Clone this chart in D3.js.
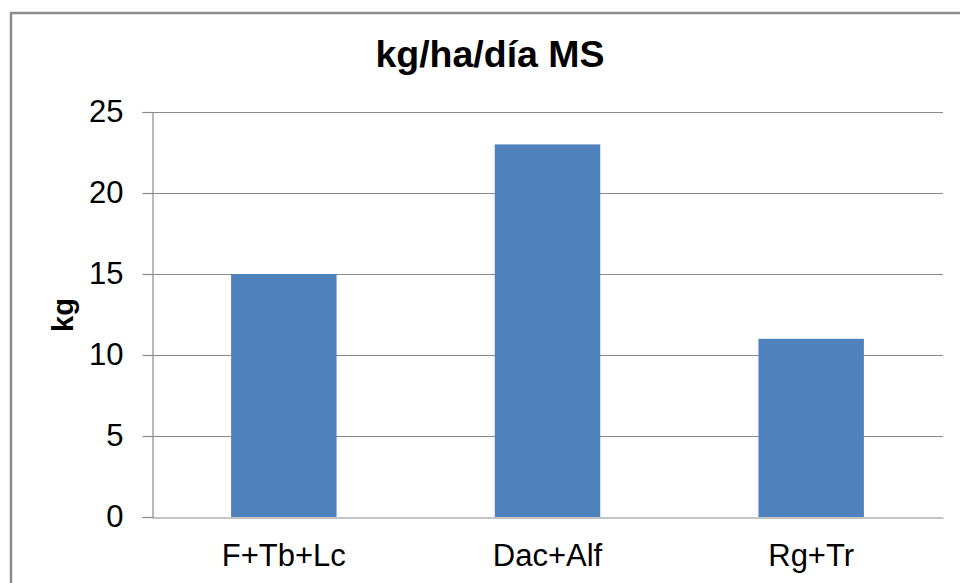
<!DOCTYPE html>
<html>
<head>
<meta charset="utf-8">
<script src="https://d3js.org/d3.v7.min.js"></script>
<style>
  body { margin: 0; background: #fff; }
  svg { display: block; font-family: "Liberation Sans", Arial, sans-serif; }
</style>
</head>
<body>
<div id="chart"></div>
<script>
// data
const categories = ["F+Tb+Lc", "Dac+Alf", "Rg+Tr"];
const values = [15, 23, 11];
const yTicks = [0, 5, 10, 15, 20, 25];
const title = "kg/ha/día MS";
const yLabel = "kg";

const width = 960;
const height = 583;
const margin = { top: 112, right: 17, bottom: 66, left: 152 };

const svg = d3.select("#chart")
  .append("svg")
  .attr("width", width)
  .attr("height", height);

// outer frame (cropped on right and bottom)
svg.append("path")
  .attr("d", `M11,${height + 5}V13H${width + 5}`)
  .attr("fill", "none")
  .attr("stroke", "#8c8c8c")
  .attr("stroke-width", 2.5);

const x = d3.scaleBand()
  .domain(categories)
  .range([margin.left, width - margin.right])
  .paddingInner(0.6)
  .paddingOuter(0.3);

const y = d3.scaleLinear()
  .domain([0, 25])
  .range([height - margin.bottom, margin.top]);

// gridlines
svg.append("g")
  .selectAll("line")
  .data(yTicks.filter(d => d > 0))
  .join("line")
  .attr("x1", margin.left)
  .attr("x2", width - margin.right)
  .attr("y1", d => Math.round(y(d)) + 0.5)
  .attr("y2", d => Math.round(y(d)) + 0.5)
  .attr("stroke", "#8a8a8a")
  .attr("stroke-width", 1.2);

// bars
svg.append("g")
  .selectAll("rect")
  .data(values)
  .join("rect")
  .attr("x", (d, i) => x(categories[i]))
  .attr("y", d => y(d))
  .attr("width", x.bandwidth())
  .attr("height", d => y(0) - y(d))
  .attr("fill", "#4f81bd");

// y axis
const yAxis = svg.append("g")
  .attr("transform", `translate(${margin.left + 0.5},0)`)
  .call(d3.axisLeft(y).tickValues(yTicks).tickSize(10).tickPadding(19));
yAxis.select(".domain").attr("stroke", "#8a8a8a").attr("stroke-width", 1.2);
yAxis.selectAll(".tick line").attr("stroke", "#8a8a8a").attr("stroke-width", 1.2);
yAxis.selectAll(".tick text")
  .attr("fill", "#000")
  .style("font-size", "31px");

// x axis
const xAxis = svg.append("g")
  .attr("transform", `translate(0,${Math.round(y(0)) + 0.5})`)
  .call(d3.axisBottom(x).tickSize(0).tickPadding(26));
xAxis.select(".domain").attr("stroke", "#8a8a8a").attr("stroke-width", 1.2);
xAxis.selectAll(".tick text")
  .attr("fill", "#000")
  .style("font-size", "31px");

// title
svg.append("text")
  .attr("x", 490)
  .attr("y", 67)
  .attr("text-anchor", "middle")
  .style("font-size", "37.5px")
  .style("font-weight", "bold")
  .text(title);

// y label
svg.append("text")
  .attr("transform", "translate(73,315) rotate(-90)")
  .attr("text-anchor", "middle")
  .style("font-size", "29px")
  .style("font-weight", "bold")
  .text(yLabel);
</script>
</body>
</html>
